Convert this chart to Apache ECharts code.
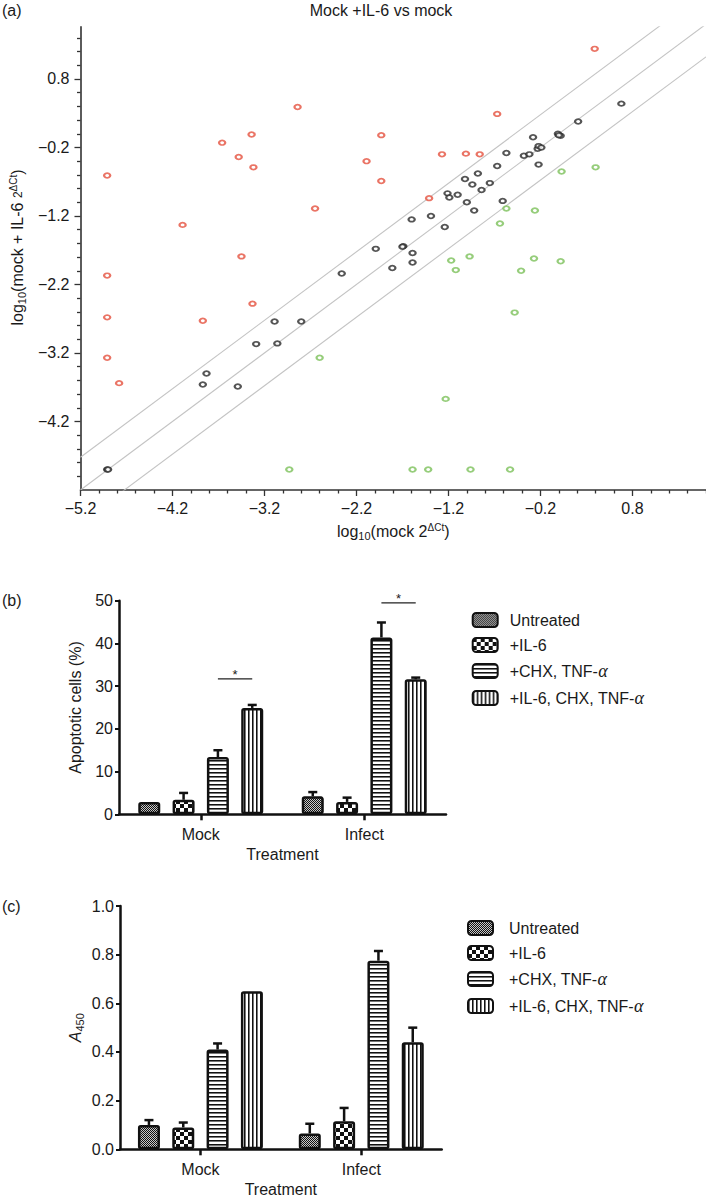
<!DOCTYPE html>
<html><head><meta charset="utf-8">
<script src="https://cdn.jsdelivr.net/npm/echarts@6/dist/echarts.min.js"></script>
<style>html,body{margin:0;padding:0;background:#fff}#c{width:706px;height:1200px}</style>
</head><body><div id="c"></div><script>
// ---------- (a) scatter data: [log10(mock 2^dCt), log10(mock+IL-6 2^dCt)] ----------
const upPoints = [[-4.91,-0.61],[-4.09,-1.33],[-3.66,-0.13],[-3.48,-0.34],[-3.34,-0.01],[-3.32,-0.49],[-2.84,0.39],[-2.65,-1.09],[-3.45,-1.79],[-4.91,-2.07],[-4.91,-2.68],[-4.91,-3.27],[-4.78,-3.64],[-3.87,-2.73],[-3.33,-2.48],[-0.67,0.29],[-1.93,-0.02],[-2.09,-0.40],[-1.93,-0.69],[-1.27,-0.30],[-1.01,-0.29],[-0.86,-0.30],[-1.41,-0.94],[0.39,1.24]];
const nsPoints = [[-4.91,-4.90],[-4.90,-4.90],[-3.87,-3.66],[-3.83,-3.50],[-3.49,-3.69],[-3.29,-3.07],[-3.06,-3.06],[-3.09,-2.74],[-2.80,-2.74],[-2.36,-2.04],[-1.99,-1.68],[-1.81,-1.96],[-1.69,-1.64],[-1.70,-1.65],[-1.59,-1.74],[-1.59,-1.88],[-1.60,-1.25],[-1.39,-1.20],[-1.24,-1.36],[-1.21,-0.87],[-1.19,-0.93],[-1.10,-0.89],[-1.02,-0.66],[-0.94,-0.74],[-0.88,-0.58],[-0.84,-0.82],[-1.00,-1.00],[-0.92,-1.12],[-0.75,-0.72],[-0.67,-0.47],[-0.61,-0.98],[-0.57,-0.28],[-0.38,-0.32],[-0.32,-0.30],[-0.28,-0.05],[-0.23,-0.22],[-0.22,-0.18],[-0.19,-0.20],[-0.22,-0.45],[-0.01,0.00],[0.02,-0.03],[0.00,-0.02],[0.21,0.18],[0.68,0.44]];
const downPoints = [[-2.60,-3.27],[-2.93,-4.90],[-1.23,-3.87],[-0.48,-2.61],[-1.59,-4.90],[-1.42,-4.90],[-0.96,-4.90],[-0.53,-4.90],[-1.12,-1.99],[-0.41,-2.00],[-1.17,-1.85],[-0.97,-1.79],[-0.27,-1.82],[0.02,-1.86],[-0.64,-1.31],[-0.57,-1.09],[-0.26,-1.12],[0.03,-0.55],[0.40,-0.49]];
const foldOffsets = [Math.log10(3), 0, -Math.log10(3)];
const scatterMin = -5.2, scatterXMax = 1.6, scatterYMax = 1.56;
const xMajorTicks = [-5.2,-4.2,-3.2,-2.2,-1.2,-0.2,0.8];
const yMajorTicks = [-4.2,-3.2,-2.2,-1.2,-0.2,0.8];
const minorStep = 0.2;

// ---------- (b), (c) bar data ----------
const treatments = ['Mock','Infect'];
const groups = ['Untreated','+IL-6','+CHX, TNF-α','+IL-6, CHX, TNF-α'];
const apoptoticMean = [[2.9,4.2],[3.4,2.9],[13.4,41.4],[24.9,31.6]];
const apoptoticErr  = [[0,1.0],[1.6,1.0],[1.6,3.5],[0.7,0.4]];
const apoptoticSig  = [[0,2,3,31.7],[1,2,3,49.5]]; // [category, fromBar, toBar, height]
const a450Mean = [[0.10,0.065],[0.09,0.115],[0.41,0.775],[0.65,0.44]];
const a450Err  = [[0.02,0.04],[0.02,0.055],[0.025,0.04],[0,0.06]];

// ---------- styling ----------
const FONT = 'Liberation Sans, Arial, sans-serif';
const TXT = '#1a1a1a';
const BAR_W = 22, BAR_GAP = 0.56, BAR_STEP = BAR_W * (1 + BAR_GAP);

function minorTicks(lo, hi, majors){
  const out = [];
  for (let i = 0; ; i++) {
    const v = Math.round((lo + minorStep * i) * 10) / 10;
    if (v > hi + 1e-9) break;
    if (!majors.some(m => Math.abs(m - v) < 1e-9) && Math.abs(v - lo) > 1e-9) out.push(v);
  }
  return out;
}
function fmtSigned(v){ return (v < 0 ? '\u2212' : '') + Math.abs(v).toFixed(1); }

function makePattern(kind){
  const c = document.createElement('canvas');
  let w = 4, h = 4;
  if (kind === 'check') { w = h = 8; }
  if (kind === 'fine') { w = h = 2; }
  c.width = w; c.height = h;
  const g = c.getContext('2d');
  g.fillStyle = '#fff'; g.fillRect(0,0,w,h);
  g.fillStyle = '#111';
  if (kind === 'fine') { g.fillRect(0,0,1,1); g.fillRect(1,1,1,1); g.fillStyle='#c8c8c8'; g.fillRect(1,0,1,1); g.fillRect(0,1,1,1); }
  else if (kind === 'check') { g.fillRect(0,0,4,4); g.fillRect(4,4,4,4); }
  else if (kind === 'h') { g.fillRect(0,0,4,1); g.fillStyle='#777'; g.fillRect(0,1,4,1); }
  else if (kind === 'v') { g.fillRect(0,0,1,4); g.fillStyle='#777'; g.fillRect(1,0,1,4); }
  return { image: c, repeat: 'repeat', imageWidth: w, imageHeight: h };
}
const patterns = [makePattern('fine'), makePattern('check'), makePattern('h'), makePattern('v')];

const chart = echarts.init(document.getElementById('c'), null, { renderer: 'svg', width: 706, height: 1200 });

const baseAxisText = { color: TXT, fontFamily: FONT, fontSize: 16 };

function scatterAxis(dim, gridIndex, majors, max, isMinor, name, nameGap, namePad){
  const ax = {
    type: 'value', gridIndex: gridIndex, min: scatterMin, max: max,
    position: dim === 'x' ? 'bottom' : 'left',
    splitLine: { show: false },
    axisLine: { show: !isMinor, onZero: false, lineStyle: { color: '#333', width: 1.6 } },
    axisTick: { show: true, customValues: isMinor ? minorTicks(scatterMin, max, majors) : majors,
                length: isMinor ? 3.5 : 6, lineStyle: { color: '#333', width: 1.3 } },
    axisLabel: isMinor ? { show: false } : Object.assign({ show: true, customValues: majors, formatter: fmtSigned,
                margin: dim === 'x' ? 10 : 11, showMinLabel: true }, baseAxisText),
    silent: true
  };
  if (name) {
    ax.name = name; ax.nameLocation = 'middle'; ax.nameGap = nameGap;
    if (dim === 'y') ax.nameRotate = 90;
    ax.nameTextStyle = Object.assign({}, baseAxisText, { padding: namePad || 0, rich: {
      s: { fontSize: 11, fontFamily: FONT, color: TXT, padding: [8,0,0,0] },
      t: { fontSize: 12, fontFamily: FONT, color: TXT },
      u: { fontSize: 10, fontFamily: FONT, color: TXT, padding: [0,0,9,0] },
      n: { fontSize: 16, fontFamily: FONT, color: TXT }
    }});
  }
  return ax;
}

function catAxis(gridIndex){
  return {
    type: 'category', gridIndex: gridIndex, data: treatments, position: 'bottom',
    axisLine: { show: true, lineStyle: { color: '#111', width: 2.5 } },
    axisTick: { show: true, alignWithLabel: true, length: 6, lineStyle: { color: '#111', width: 2.5 } },
    axisLabel: Object.assign({ margin: 12 }, baseAxisText),
    name: 'Treatment', nameLocation: 'middle', nameGap: 32, nameTextStyle: baseAxisText,
    silent: true
  };
}
function barValueAxis(gridIndex, max, interval, dec, name, nameGap){
  return {
    type: 'value', gridIndex: gridIndex, min: 0, max: max, interval: interval, position: 'left',
    splitLine: { show: false },
    axisLine: { show: true, lineStyle: { color: '#111', width: 2.5 } },
    axisTick: { show: true, length: 4, lineStyle: { color: '#111', width: 2 } },
    axisLabel: Object.assign({ margin: 6, formatter: v => v.toFixed(dec) }, baseAxisText),
    name: name, nameLocation: 'middle', nameGap: nameGap, nameRotate: 90,
    nameTextStyle: Object.assign({}, baseAxisText, { rich: {
      i: { fontSize: 16, fontStyle: 'italic', fontFamily: FONT, color: TXT },
      s: { fontSize: 11, fontFamily: FONT, color: TXT, padding: [8,0,0,0] }
    }}),
    silent: true
  };
}

const series = [];
// fold-change reference lines
foldOffsets.forEach(off => {
  series.push({ type: 'line', xAxisIndex: 0, yAxisIndex: 0, silent: true, symbol: 'none', clip: true, z: 1,
    lineStyle: { color: '#c4c4c4', width: 1.1 },
    data: [[scatterMin, scatterMin + off], [scatterXMax, scatterXMax + off]] });
});
[[upPoints, '#e5513f'], [nsPoints, '#2a2a2a'], [downPoints, '#7cc05a']].forEach(([pts, col]) => {
  series.push({ type: 'scatter', xAxisIndex: 0, yAxisIndex: 0, data: pts, symbol: 'emptyCircle',
    symbolSize: [6.2, 4.6], z: 3, itemStyle: { color: col, borderColor: col, borderWidth: 1.2 },
    emphasis: { disabled: true } });
});

function addBars(means, errs, xi, yi){
  groups.forEach((g, k) => {
    series.push({ type: 'bar', name: g, xAxisIndex: xi, yAxisIndex: yi, data: means[k],
      barWidth: BAR_W, barGap: (BAR_GAP * 100) + '%', z: 2,
      itemStyle: { color: patterns[k], borderColor: '#111', borderWidth: 2.5, borderRadius: 1.5 },
      emphasis: { disabled: true } });
  });
  const errData = [];
  groups.forEach((g, k) => treatments.forEach((t, c) => {
    if (errs[k][c] > 0) errData.push([c, means[k][c], errs[k][c], k]);
  }));
  series.push({ type: 'custom', xAxisIndex: xi, yAxisIndex: yi, data: errData, z: 4, silent: true,
    encode: { x: 0, y: 1 },
    renderItem: (params, api) => {
      const p = api.coord([api.value(0), api.value(1)]);
      const q = api.coord([api.value(0), api.value(1) + api.value(2)]);
      const x = p[0] + (api.value(3) - 1.5) * BAR_STEP;
      const st = { stroke: '#111', lineWidth: 2.5 };
      return { type: 'group', children: [
        { type: 'line', shape: { x1: x, y1: p[1], x2: x, y2: q[1] }, style: st },
        { type: 'line', shape: { x1: x - 4.5, y1: q[1], x2: x + 4.5, y2: q[1] }, style: st }
      ]};
    } });
}
addBars(apoptoticMean, apoptoticErr, 2, 2);
addBars(a450Mean, a450Err, 3, 3);

series.push({ type: 'custom', xAxisIndex: 2, yAxisIndex: 2, data: apoptoticSig, z: 4, silent: true,
  encode: { x: 0, y: 3 },
  renderItem: (params, api) => {
    const p = api.coord([api.value(0), api.value(3)]);
    const x1 = p[0] + (api.value(1) - 1.5) * BAR_STEP;
    const x2 = p[0] + (api.value(2) - 1.5) * BAR_STEP;
    return { type: 'group', children: [
      { type: 'line', shape: { x1: x1, y1: p[1], x2: x2, y2: p[1] }, style: { stroke: '#222', lineWidth: 1.3 } },
      { type: 'text', x: (x1 + x2) / 2, y: p[1] + 2, style: { text: '*', fill: TXT, font: '13px ' + FONT,
        textAlign: 'center', textVerticalAlign: 'bottom' } }
    ]};
  } });

function legendCfg(left, top, pad){
  return { data: groups, orient: 'vertical', left: left, top: top, itemWidth: 25, itemHeight: 14, itemGap: 9,
    icon: 'roundRect', selectedMode: false,
    formatter: n => n.replace('α', '{g|α}'),
    textStyle: { color: TXT, fontFamily: FONT, fontSize: 16, lineHeight: 16, padding: [0,0,0,pad],
      rich: { g: { fontSize: 18, fontStyle: 'italic', fontFamily: 'Liberation Serif, serif', color: TXT, lineHeight: 16 } } } };
}

const option = {
  animation: false,
  backgroundColor: '#fff',
  grid: [
    { left: 72.3, top: 26.9, width: 635.8, height: 463.1 },
    { left: 119, top: 600.7, width: 327, height: 213.6 },
    { left: 120, top: 906, width: 321.7, height: 243.3 }
  ],
  xAxis: [
    scatterAxis('x', 0, xMajorTicks, scatterXMax, false, 'log{s|10}(mock 2{u|ΔCt})', 32),
    scatterAxis('x', 0, xMajorTicks, scatterXMax, true),
    catAxis(1), catAxis(2)
  ],
  yAxis: [
    scatterAxis('y', 0, yMajorTicks, scatterYMax, false, 'log{s|10}(mock + IL-6 {t|2}{u|ΔCt})', 50, [0,0,0,22]),
    scatterAxis('y', 0, yMajorTicks, scatterYMax, true),
    barValueAxis(1, 50, 10, 0, 'Apoptotic cells (%)', 36),
    barValueAxis(2, 1.0, 0.2, 1, '{i|A}{s|450}', 35)
  ],
  legend: [ legendCfg(466.7, 607, 7), legendCfg(462, 915, 11) ],
  graphic: [
    { type: 'text', x: 381, y: 10, silent: true, style: { text: 'Mock +IL-6 vs mock', fill: TXT, font: '16px ' + FONT, textAlign: 'center', textVerticalAlign: 'middle' } },
    { type: 'text', x: 2, y: 10, silent: true, style: { text: '(a)', fill: TXT, font: '16px ' + FONT, textVerticalAlign: 'middle' } },
    { type: 'text', x: 2, y: 600, silent: true, style: { text: '(b)', fill: TXT, font: '16px ' + FONT, textVerticalAlign: 'middle' } },
    { type: 'text', x: 2, y: 906, silent: true, style: { text: '(c)', fill: TXT, font: '16px ' + FONT, textVerticalAlign: 'middle' } }
  ],
  series: series
};
chart.setOption(option);
</script></body></html>
